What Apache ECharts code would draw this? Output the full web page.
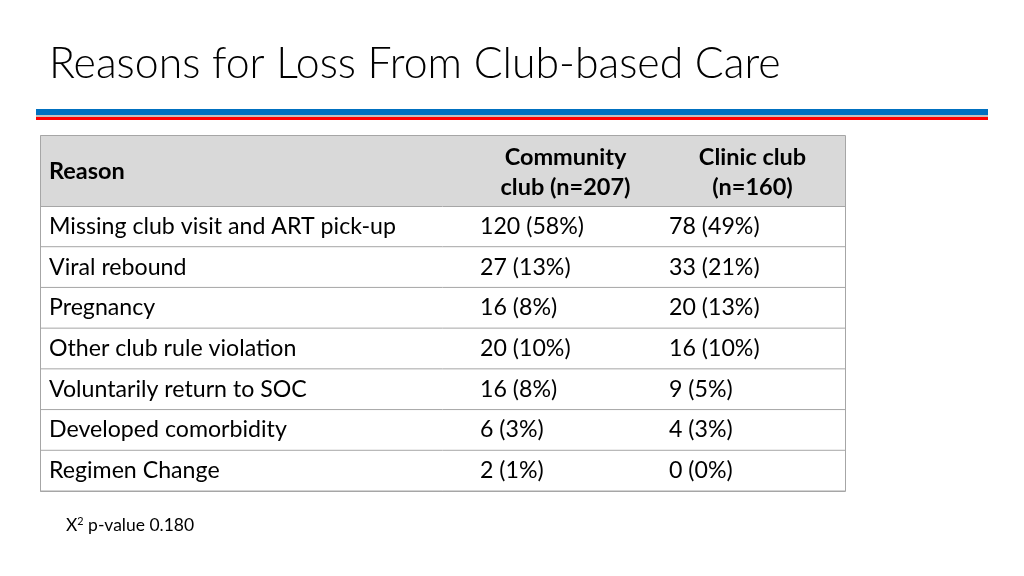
<!DOCTYPE html>
<html>
<head>
<meta charset="utf-8">
<script src="https://cdn.jsdelivr.net/npm/echarts@6/dist/echarts.min.js"></script>
<style>
html,body{margin:0;padding:0;background:#fff;}
#chart{width:1024px;height:576px;}
</style>
</head>
<body>
<div id="chart"></div>
<script>
// ---------- data ----------
const titleText = 'Reasons for Loss From Club-based Care';
const headerReason = 'Reason';
const headerCommunity = ['Community', 'club (n=207)'];
const headerClinic = ['Clinic club', '(n=160)'];
const reasons = [
  'Missing club visit and ART pick-up',
  'Viral rebound',
  'Pregnancy',
  'Other club rule violation',
  'Voluntarily return to SOC',
  'Developed comorbidity',
  'Regimen Change'
];
const communityN = [120, 27, 16, 20, 16, 6, 2];
const communityPct = [58, 13, 8, 10, 8, 3, 1];
const clinicN = [78, 33, 20, 16, 9, 4, 0];
const clinicPct = [49, 21, 13, 10, 5, 3, 0];
const pValue = '0.180';

// ---------- layout ----------
const FONT = 'Lato, "Open Sans", sans-serif';
const ctx = document.createElement('canvas').getContext('2d');
function fit(text, weight, target) {
  ctx.font = weight + ' 100px ' + FONT;
  return 100 * target / ctx.measureText(text).width;
}
const titleSize = fit(titleText, '300', 732);
const bodySize = fit(reasons[0], 'normal', 347);
const headSize = fit(headerCommunity[1], 'bold', 130);
const footSize = fit('p-value ' + pValue, 'normal', 106);

const tableLeft = 40, tableRight = 845, headTop = 135, headBottom = 206, tableBottom = 491;
const tableW = tableRight - tableLeft;
const colStart = [0, 431, 620];   // relative x of column starts
const colEnd = [431, 620, tableW];
const pad = 9;
const borderColor = '#a6a6a6';

const chart = echarts.init(document.getElementById('chart'), null, {renderer: 'canvas'});

const rowData = reasons.map((r, i) => [0, i]);

function cellText(i) {
  return [
    reasons[i],
    communityN[i] + ' (' + communityPct[i] + '%)',
    clinicN[i] + ' (' + clinicPct[i] + '%)'
  ];
}

const option = {
  backgroundColor: '#ffffff',
  animation: false,
  title: {
    text: titleText,
    left: 44,
    top: 38,
    textStyle: {fontFamily: FONT, fontWeight: 300, fontSize: titleSize, color: '#000'}
  },
  grid: {left: tableLeft, right: 1024 - tableRight, top: headBottom, bottom: 576 - tableBottom},
  xAxis: {type: 'value', min: 0, max: 1, show: false},
  yAxis: {type: 'category', data: reasons, inverse: true, show: false},
  series: [{
    type: 'custom',
    data: rowData,
    encode: {x: 0, y: 1},
    renderItem: function (params, api) {
      const i = api.value(1);
      const cy = api.coord([0, i])[1];
      const h = api.size([0, 1])[1];
      const cs = params.coordSys;
      const top = cy - h / 2;
      const texts = cellText(i);
      const children = [{
        type: 'line',
        shape: {x1: cs.x, y1: top + h, x2: cs.x + cs.width, y2: top + h},
        style: {stroke: borderColor, lineWidth: 1}
      }];
      texts.forEach((t, k) => {
        children.push({
          type: 'text',
          x: cs.x + colStart[k] + pad,
          y: cy,
          style: {text: t, fill: '#000', font: 'normal ' + bodySize + 'px ' + FONT,
                  textAlign: 'left', textVerticalAlign: 'middle'}
        });
      });
      return {type: 'group', children: children};
    }
  }],
  graphic: [
    // title underline stripes
    {type: 'rect', shape: {x: 36, y: 109, width: 952, height: 6}, style: {fill: '#0070c0'}},
    {type: 'rect', shape: {x: 36, y: 115, width: 952, height: 2}, style: {fill: '#c0c0c0'}},
    {type: 'rect', shape: {x: 36, y: 117, width: 952, height: 3}, style: {fill: '#ff0000'}},
    // header background
    {type: 'rect', shape: {x: tableLeft, y: headTop, width: tableW, height: headBottom - headTop},
     style: {fill: '#d9d9d9'}},
    // outer border
    {type: 'rect', shape: {x: tableLeft + 0.5, y: headTop + 0.5, width: tableW, height: tableBottom - headTop},
     style: {fill: 'none', stroke: borderColor, lineWidth: 1}, z: 10},
    {type: 'line', shape: {x1: tableLeft, y1: headBottom + 0.5, x2: tableRight, y2: headBottom + 0.5},
     style: {stroke: borderColor, lineWidth: 1}, z: 10},
    // header texts
    {type: 'text', x: tableLeft + pad, y: (headTop + headBottom) / 2 + 1,
     style: {text: headerReason, fill: '#000', font: 'bold ' + headSize + 'px ' + FONT, textVerticalAlign: 'middle'}},
    {type: 'text', x: tableLeft + (colStart[1] + colEnd[1]) / 2, y: 157,
     style: {text: headerCommunity[0], fill: '#000', font: 'bold ' + headSize + 'px ' + FONT, textAlign: 'center', textVerticalAlign: 'middle'}},
    {type: 'text', x: tableLeft + (colStart[1] + colEnd[1]) / 2, y: 187,
     style: {text: headerCommunity[1], fill: '#000', font: 'bold ' + headSize + 'px ' + FONT, textAlign: 'center', textVerticalAlign: 'middle'}},
    {type: 'text', x: tableLeft + (colStart[2] + colEnd[2]) / 2, y: 157,
     style: {text: headerClinic[0], fill: '#000', font: 'bold ' + headSize + 'px ' + FONT, textAlign: 'center', textVerticalAlign: 'middle'}},
    {type: 'text', x: tableLeft + (colStart[2] + colEnd[2]) / 2, y: 187,
     style: {text: headerClinic[1], fill: '#000', font: 'bold ' + headSize + 'px ' + FONT, textAlign: 'center', textVerticalAlign: 'middle'}},
    // footnote
    {type: 'text', x: 66, y: 525,
     style: {
       text: '{x|X}{sup|2}{t| p-value ' + pValue + '}',
       textVerticalAlign: 'middle',
       rich: {
         x: {fontFamily: FONT, fontSize: footSize, color: '#000'},
         sup: {fontFamily: FONT, fontSize: footSize * 0.62, color: '#000', verticalAlign: 'top', padding: [0, 0, 6, 0]},
         t: {fontFamily: FONT, fontSize: footSize, color: '#000'}
       }
     }}
  ]
};
chart.setOption(option);
</script>
</body>
</html>
